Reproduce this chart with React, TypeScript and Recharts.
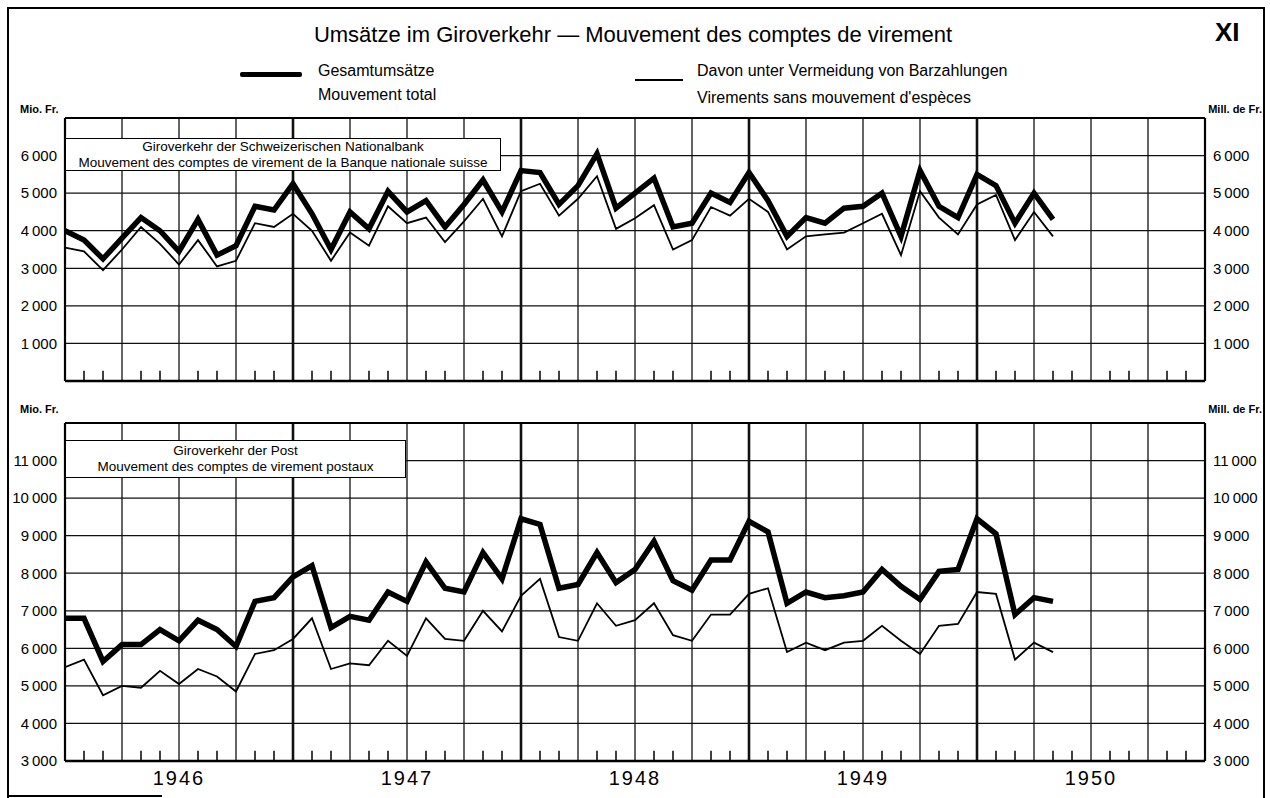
import { CartesianGrid, Line, LineChart, ReferenceLine, XAxis, YAxis } from 'recharts';

// months are counted from Jan 1946 (0) to Jan 1951 (60)
const MONTHS = 60;
const YEARS = ['1946', '1947', '1948', '1949', '1950'];
const YEAR_MID = [6, 18, 30, 42, 54];
const YEAR_ENDS = [12, 24, 36, 48];
const QUARTERS = [3, 6, 9, 12, 15, 18, 21, 24, 27, 30, 33, 36, 39, 42, 45, 48, 51, 54, 57];
const MONTH_TICKS = Array.from({ length: MONTHS - 1 }, (_, k) => k + 1).filter((m) => m % 3 !== 0);

// Schweizerische Nationalbank, Mio. Fr.
const SNB_TOTAL = [
  4000, 3750, 3250, 3800, 4350, 4000, 3450, 4300, 3350, 3600, 4650, 4550,
  5250, 4450, 3500, 4500, 4050, 5050, 4500, 4800, 4100, 4700, 5350, 4500,
  5600, 5550, 4700, 5200, 6050, 4600, 5000, 5400, 4100, 4200, 5000, 4750,
  5550, 4800, 3850, 4350, 4200, 4600, 4650, 5000, 3850, 5600, 4650, 4350,
  5500, 5200, 4200, 5000, 4300,
];
const SNB_CASHLESS = [
  3550, 3450, 2950, 3500, 4100, 3650, 3100, 3750, 3050, 3200, 4200, 4100,
  4450, 4000, 3200, 3950, 3600, 4650, 4200, 4350, 3700, 4250, 4850, 3850,
  5050, 5250, 4400, 4850, 5450, 4050, 4330, 4680, 3500, 3750, 4630, 4400,
  4850, 4500, 3500, 3850, 3900, 3950, 4200, 4450, 3350, 5050, 4350, 3900,
  4700, 4950, 3750, 4500, 3850,
];

// Post, Mio. Fr.
const POST_TOTAL = [
  6800, 6800, 5650, 6100, 6100, 6500, 6200, 6750, 6500, 6050, 7250, 7350,
  7900, 8200, 6550, 6850, 6750, 7500, 7250, 8300, 7600, 7500, 8550, 7850,
  9450, 9300, 7600, 7700, 8550, 7750, 8100, 8850, 7800, 7550, 8350, 8350,
  9380, 9100, 7200, 7500, 7350, 7400, 7500, 8100, 7650, 7300, 8050, 8100,
  9450, 9050, 6900, 7350, 7250,
];
const POST_CASHLESS = [
  5500, 5700, 4750, 5000, 4950, 5400, 5050, 5450, 5250, 4850, 5850, 5950,
  6250, 6800, 5450, 5600, 5550, 6200, 5800, 6800, 6250, 6200, 7000, 6450,
  7400, 7850, 6300, 6200, 7200, 6600, 6750, 7200, 6350, 6200, 6900, 6900,
  7450, 7600, 5900, 6150, 5950, 6150, 6200, 6600, 6200, 5850, 6600, 6650,
  7500, 7450, 5700, 6150, 5900,
];

const SNB_DOMAIN: [number, number] = [0, 7000];
const SNB_TICKS = [1000, 2000, 3000, 4000, 5000, 6000];
const POST_DOMAIN: [number, number] = [3000, 12000];
const POST_TICKS = [3000, 4000, 5000, 6000, 7000, 8000, 9000, 10000, 11000];

const FONT = "'Liberation Sans', Arial, sans-serif";
const TICK_LEN = 270;

const fmt = (v: number) => `${Math.floor(v / 1000)}\u2009${String(v % 1000).padStart(3, '0')}`;

interface PanelProps {
  total: number[];
  cashless: number[];
  domain: [number, number];
  ticks: number[];
  top: number;
  height: number;
  marginTop: number;
  marginBottom: number;
  years?: boolean;
}

function Panel({ total, cashless, domain, ticks, top, height, marginTop, marginBottom, years }: PanelProps) {
  const rows = total.map((v, i) => ({ i, total: v, cashless: cashless[i] }));
  const tickStyle = { fontSize: 15, fill: '#000', fontFamily: FONT };
  return (
    <div style={{ position: 'absolute', left: 0, top }}>
      <LineChart width={1270} height={height} data={rows}
        margin={{ top: marginTop, right: 0, bottom: marginBottom, left: 0 }}>
        <CartesianGrid yAxisId="l" vertical={false} stroke="#111" strokeWidth={1.3} />
        <XAxis
          type="number" dataKey="i" domain={[0, MONTHS]} allowDataOverflow
          hide={!years} ticks={YEAR_MID} height={37}
          tickFormatter={(v: number) => YEARS[YEAR_MID.indexOf(v)]}
          axisLine={false} tickLine={false} tickSize={0} tickMargin={10}
          tick={{ fontSize: 20, fill: '#000', fontFamily: FONT, letterSpacing: 2 }}
        />
        <YAxis
          yAxisId="l" domain={domain} ticks={ticks} width={65}
          axisLine={false} tickLine={false} tickSize={0} tickMargin={8}
          tickFormatter={fmt} tick={tickStyle} allowDataOverflow interval={0}
        />
        <YAxis
          yAxisId="r" orientation="right" domain={domain} ticks={ticks} width={65}
          axisLine={false} tickLine={false} tickSize={0} tickMargin={8}
          tickFormatter={fmt} tick={tickStyle} allowDataOverflow interval={0}
        />

        {QUARTERS.map((q) => (
          <ReferenceLine key={`q${q}`} yAxisId="l" x={q} stroke="#111"
            strokeWidth={YEAR_ENDS.includes(q) ? 2.6 : 1.3} />
        ))}
        {MONTH_TICKS.map((m) => (
          <ReferenceLine key={`m${m}`} yAxisId="l" stroke="#111" strokeWidth={1.6}
            segment={[{ x: m, y: domain[0] }, { x: m, y: domain[0] + TICK_LEN }]} />
        ))}

        <Line yAxisId="l" type="linear" dataKey="cashless" stroke="#000" strokeWidth={1.8}
          dot={false} isAnimationActive={false} />
        <Line yAxisId="l" type="linear" dataKey="total" stroke="#000" strokeWidth={5.5}
          dot={false} isAnimationActive={false} strokeLinejoin="miter" />

        <ReferenceLine yAxisId="l" y={domain[0]} stroke="#000" strokeWidth={2.4} />
        <ReferenceLine yAxisId="l" y={domain[1]} stroke="#000" strokeWidth={2.2} />
        <ReferenceLine yAxisId="l" x={0} stroke="#000" strokeWidth={2.2} />
        <ReferenceLine yAxisId="l" x={MONTHS} stroke="#000" strokeWidth={2.2} />
      </LineChart>
    </div>
  );
}

function Txt({ x, y, size, children, bold, anchor = 'start', spacing }: {
  x: number; y: number; size: number; children: React.ReactNode; bold?: boolean;
  anchor?: 'start' | 'middle' | 'end'; spacing?: number;
}) {
  const shift = anchor === 'middle' ? '-50%' : anchor === 'end' ? '-100%' : '0';
  return (
    <div style={{
      position: 'absolute', left: x, top: y - size * 0.6, fontSize: size, lineHeight: 1.2,
      fontWeight: bold ? 700 : 400, whiteSpace: 'nowrap', transform: `translateX(${shift})`,
      letterSpacing: spacing, zIndex: 3,
    }}>
      {children}
    </div>
  );
}

const boxStyle: React.CSSProperties = {
  position: 'absolute', background: '#fff', border: '1.6px solid #000', boxSizing: 'border-box',
  display: 'flex', flexDirection: 'column', alignItems: 'center', justifyContent: 'center',
  fontSize: 13.5, lineHeight: 1.15, zIndex: 2,
};

export default function App() {
  return (
    <div style={{
      position: 'absolute', left: 0, top: 0, width: 1270, height: 798, background: '#fff',
      fontFamily: FONT, color: '#000', overflow: 'hidden',
    }}>
      {/* outer frame */}
      <div style={{ position: 'absolute', left: 7, top: 7, width: 1254, height: 800,
        borderLeft: '2px solid #000', borderTop: '2px solid #000', borderRight: '2px solid #000' }} />
      <div style={{ position: 'absolute', left: 7, top: 795, width: 155, height: 2, background: '#000' }} />

      <Txt x={633} y={35} size={22} anchor="middle">Umsätze im Giroverkehr — Mouvement des comptes de virement</Txt>
      <Txt x={1215} y={33} size={26} bold>XI</Txt>

      <div style={{ position: 'absolute', left: 240, top: 72, width: 62, height: 5, background: '#000', borderRadius: 2 }} />
      <Txt x={318} y={71} size={16}>Gesamtumsätze</Txt>
      <Txt x={318} y={95} size={16}>Mouvement total</Txt>
      <div style={{ position: 'absolute', left: 635, top: 79, width: 48, height: 2, background: '#000' }} />
      <Txt x={697} y={71} size={16}>Davon unter Vermeidung von Barzahlungen</Txt>
      <Txt x={697} y={98} size={16}>Virements sans mouvement d'espèces</Txt>

      <Txt x={20} y={110} size={11} bold>Mio. Fr.</Txt>
      <Txt x={1262} y={110} size={11} bold anchor="end">Mill. de Fr.</Txt>
      <Txt x={20} y={410} size={11} bold>Mio. Fr.</Txt>
      <Txt x={1262} y={410} size={11} bold anchor="end">Mill. de Fr.</Txt>

      <Panel total={SNB_TOTAL} cashless={SNB_CASHLESS} domain={SNB_DOMAIN} ticks={SNB_TICKS}
        top={0} height={400} marginTop={118} marginBottom={19} />
      <Panel total={POST_TOTAL} cashless={POST_CASHLESS} domain={POST_DOMAIN} ticks={POST_TICKS}
        top={395} height={403} marginTop={28} marginBottom={0} years />

      <div style={{ ...boxStyle, left: 65, top: 138, width: 436, height: 33 }}>
        <div>Giroverkehr der Schweizerischen Nationalbank</div>
        <div>Mouvement des comptes de virement de la Banque nationale suisse</div>
      </div>
      <div style={{ ...boxStyle, left: 65, top: 440, width: 341, height: 38 }}>
        <div>Giroverkehr der Post</div>
        <div>Mouvement des comptes de virement postaux</div>
      </div>
    </div>
  );
}
